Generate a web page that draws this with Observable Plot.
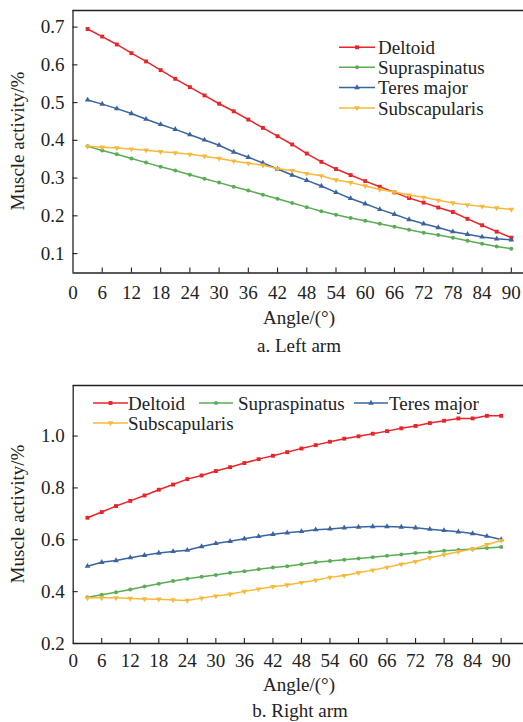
<!DOCTYPE html>
<html><head><meta charset="utf-8">
<script src="https://cdn.jsdelivr.net/npm/d3@7"></script>
<script src="https://cdn.jsdelivr.net/npm/@observablehq/plot@0.6"></script>
<style>
html,body{margin:0;padding:0;background:#fff;}
#root{position:relative;width:523px;height:722px;overflow:hidden;font-family:"Liberation Serif","Times New Roman",serif;color:#222;}
#root svg.panel{position:absolute;left:0;}
#overlay{position:absolute;left:0;top:0;pointer-events:none;}
</style></head><body><div id="root"></div>
<script>
const angles = [3,6,9,12,15,18,21,24,27,30,33,36,39,42,45,48,51,54,57,60,63,66,69,72,75,78,81,84,87,90];
const muscles = ["Deltoid","Supraspinatus","Teres major","Subscapularis"];
const colors = ["#e8262a","#5aac55","#3a64a0","#f6b93b"];
const symbols = ["square","circle","triangle","triangle"];
const rotations = [0,0,0,180];
const xTicks = [0,6,12,18,24,30,36,42,48,54,60,66,72,78,84,90];
const yTicksLeft = [0.1,0.2,0.3,0.4,0.5,0.6,0.7];
const yTicksRight = [0.2,0.4,0.6,0.8,1.0];

const leftDeltoid = [0.695,0.675,0.654,0.631,0.609,0.586,0.563,0.541,0.519,0.497,0.477,0.455,0.433,0.411,0.389,0.365,0.343,0.324,0.308,0.292,0.277,0.262,0.247,0.235,0.222,0.210,0.192,0.175,0.158,0.142];
const leftSupraspinatus = [0.384,0.373,0.363,0.352,0.341,0.330,0.320,0.309,0.298,0.288,0.277,0.267,0.256,0.245,0.234,0.223,0.212,0.203,0.194,0.187,0.179,0.171,0.163,0.155,0.149,0.142,0.134,0.126,0.119,0.113];
const leftTeresMajor = [0.507,0.496,0.484,0.471,0.456,0.442,0.429,0.415,0.401,0.387,0.369,0.355,0.340,0.324,0.308,0.294,0.279,0.262,0.246,0.232,0.217,0.204,0.190,0.179,0.169,0.158,0.151,0.144,0.139,0.136];
const leftSubscapularis = [0.384,0.382,0.380,0.377,0.374,0.370,0.367,0.363,0.358,0.352,0.345,0.339,0.334,0.325,0.320,0.312,0.306,0.295,0.288,0.279,0.270,0.263,0.255,0.249,0.241,0.234,0.229,0.225,0.221,0.217];

const rightDeltoid = [0.685,0.707,0.730,0.750,0.771,0.793,0.813,0.834,0.848,0.865,0.880,0.896,0.911,0.924,0.938,0.952,0.965,0.978,0.990,0.999,1.009,1.019,1.030,1.039,1.050,1.059,1.068,1.068,1.078,1.078];
const rightSupraspinatus = [0.378,0.388,0.398,0.408,0.420,0.430,0.441,0.450,0.457,0.464,0.473,0.479,0.486,0.493,0.498,0.506,0.513,0.518,0.523,0.528,0.533,0.538,0.543,0.549,0.552,0.558,0.561,0.564,0.568,0.572];
const rightTeresMajor = [0.498,0.513,0.520,0.531,0.540,0.549,0.555,0.560,0.574,0.586,0.594,0.604,0.613,0.621,0.627,0.632,0.639,0.642,0.646,0.649,0.651,0.651,0.649,0.646,0.641,0.636,0.631,0.624,0.614,0.601];
const rightSubscapularis = [0.376,0.376,0.376,0.374,0.372,0.371,0.368,0.366,0.375,0.383,0.390,0.401,0.410,0.419,0.426,0.435,0.444,0.455,0.462,0.473,0.483,0.494,0.506,0.516,0.531,0.542,0.554,0.564,0.581,0.597];

const FONT = '"Liberation Serif","Times New Roman",serif';
const AX = "#222";

function buildPanel(series, cfg) {
  const marks = [];
  marks.push(Plot.ruleY([cfg.yDomain[0], cfg.yDomain[1]], {stroke: AX, strokeWidth: 1.3}));
  marks.push(Plot.ruleX([cfg.xDomain[0]], {stroke: AX, strokeWidth: 1.3}));
  marks.push(Plot.ruleX(xTicks.filter(d => d > 0), {x: d => d, y1: cfg.yDomain[0], y2: cfg.yDomain[0], insetTop: -5, stroke: AX, strokeWidth: 1.1}));
  marks.push(Plot.ruleY(cfg.yTicks, {y: d => d, x1: cfg.xDomain[0], x2: cfg.xDomain[0], insetRight: -5, stroke: AX, strokeWidth: 1.1}));
  series.forEach((vals, i) => {
    const data = angles.map((a, k) => ({angle: a, value: vals[k]}));
    marks.push(Plot.line(data, {x: "angle", y: "value", stroke: colors[i], strokeWidth: 1.5}));
    marks.push(Plot.dot(data, {x: "angle", y: "value", fill: colors[i], stroke: "none",
      symbol: symbols[i], rotate: rotations[i], r: symbols[i] === "circle" ? 2 : (symbols[i] === "square" ? 2.2 : 2.1)}));
  });
  marks.push(Plot.axisX({ticks: xTicks, tickSize: 0, tickPadding: cfg.xPad, tickFormat: d => String(d), label: null, fill: "#222"}));
  marks.push(Plot.axisY({ticks: cfg.yTicks, tickSize: 0, tickPadding: 8.5, tickFormat: d => d.toFixed(1), label: null, fill: "#222"}));
  const svg = Plot.plot({
    width: 523, height: cfg.height,
    marginLeft: cfg.marginLeft, marginRight: 0, marginTop: cfg.marginTop, marginBottom: cfg.marginBottom,
    x: {domain: cfg.xDomain},
    y: {domain: cfg.yDomain},
    style: {fontFamily: FONT, fontSize: "19px", color: "#222", background: "transparent", overflow: "visible"},
    marks
  });
  svg.classList.add("panel");
  svg.style.top = cfg.top + "px";
  return svg;
}

const root = document.getElementById("root");
root.appendChild(buildPanel([leftDeltoid, leftSupraspinatus, leftTeresMajor, leftSubscapularis], {
  top: 0, height: 300, marginTop: 10, marginBottom: 27.5, marginLeft: 72.5,
  xDomain: [0, 92.5], yDomain: [0.0485, 0.744], yTicks: yTicksLeft, xPad: 12
}));
root.appendChild(buildPanel([rightDeltoid, rightSupraspinatus, rightTeresMajor, rightSubscapularis], {
  top: 375, height: 295, marginTop: 10, marginBottom: 27, marginLeft: 72.7,
  xDomain: [0, 94.7], yDomain: [0.2, 1.195], yTicks: yTicksRight, xPad: 10
}));

const ov = d3.select(root).append("svg").attr("id", "overlay").attr("width", 523).attr("height", 722)
  .style("font-family", FONT).style("font-size", "19px").attr("fill", "#222");

function text(x, y, s, anchor, rotate) {
  const t = ov.append("text").attr("text-anchor", anchor || "start").text(s);
  if (rotate) t.attr("transform", `translate(${x},${y}) rotate(${rotate})`);
  else t.attr("x", x).attr("y", y);
}
text(24, 141, "Muscle activity/%", "middle", -90);
text(24, 514, "Muscle activity/%", "middle", -90);
text(299, 323.5, "Angle/(°)", "middle");
text(299, 351.5, "a. Left arm", "middle");
text(299, 690.5, "Angle/(°)", "middle");
text(300, 716.5, "b. Right arm", "middle");

const symType = {square: d3.symbolSquare, circle: d3.symbolCircle, triangle: d3.symbolTriangle};
function legendItem(i, x1, x2, y, tx) {
  ov.append("line").attr("x1", x1).attr("x2", x2).attr("y1", y).attr("y2", y)
    .attr("stroke", colors[i]).attr("stroke-width", 1.5);
  const r = symbols[i] === "circle" ? 2 : (symbols[i] === "square" ? 2.2 : 2.1);
  ov.append("path").attr("d", d3.symbol(symType[symbols[i]], Math.PI * r * r)())
    .attr("transform", `translate(${(x1 + x2) / 2},${y}) rotate(${rotations[i]})`)
    .attr("fill", colors[i]);
  ov.append("text").attr("x", tx).attr("y", y + 6.5).text(muscles[i]);
}
const topRows = [47.3, 67.3, 87.5, 108];
muscles.forEach((m, i) => legendItem(i, 339, 375, topRows[i], 378));
legendItem(0, 93, 128, 403, 128);
legendItem(1, 199, 233, 403, 238);
legendItem(2, 354, 388, 403, 389);
legendItem(3, 93, 128, 423, 128);
</script></body></html>
